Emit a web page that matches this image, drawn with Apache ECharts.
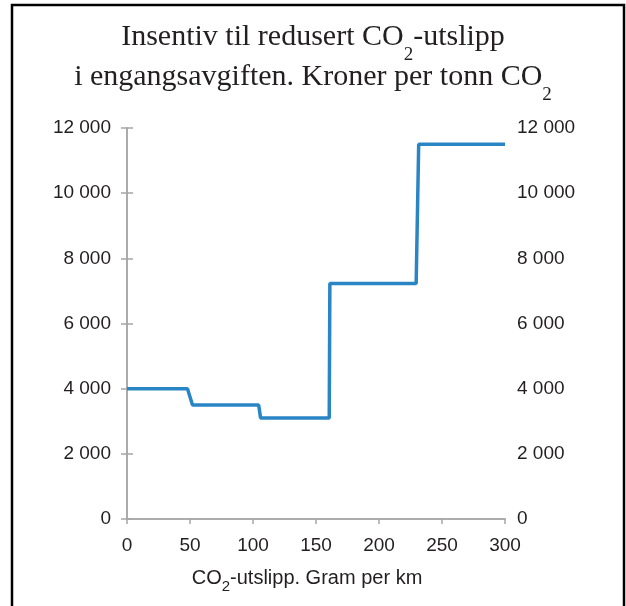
<!DOCTYPE html>
<html>
<head>
<meta charset="utf-8">
<script src="https://cdn.jsdelivr.net/npm/echarts@6/dist/echarts.min.js"></script>
<style>
html,body{margin:0;padding:0;background:#fff;}
#chart{width:626px;height:606px;}
</style>
</head>
<body>
<div id="chart"></div>
<script>
// Data
var emissions = [0, 48, 52, 104.5, 106, 160.5, 161, 229.5, 231.5, 300];
var incentive = [4000, 4000, 3500, 3500, 3100, 3100, 7230, 7230, 11500, 11500];
var xTicks = [0, 50, 100, 150, 200, 250, 300];
var yTicks = [0, 2000, 4000, 6000, 8000, 10000, 12000];

var seriesData = emissions.map(function (x, i) { return [x, incentive[i]]; });

function fmt(v) {
  return String(v).replace(/\B(?=(\d{3})+(?!\d))/g, ' ');
}

var axisColor = '#A6A6A6';
var labelStyle = { color: '#231F20', fontFamily: 'Liberation Sans', fontSize: 19 };

var chart = echarts.init(document.getElementById('chart'), null, { renderer: 'canvas' });
chart.setOption({
  animation: false,
  backgroundColor: '#ffffff',
  title: {
    left: 'center',
    top: 12,
    textStyle: {
      fontWeight: 'normal',
      rich: {
        a: { fontFamily: 'Liberation Serif', fontWeight: 'normal', fontSize: 30, color: '#231F20', lineHeight: 40 },
        s: { fontFamily: 'Liberation Serif', fontWeight: 'normal', fontSize: 19, color: '#231F20', lineHeight: 2, verticalAlign: 'top', padding: [29, 0, 0, 0] }
      }
    },
    text: '{a|Insentiv til redusert CO}{s|2}{a|-utslipp}\n{a|i engangsavgiften. Kroner per tonn CO}{s|2}'
  },
  graphic: [{
    type: 'rect',
    shape: { x: 12, y: 5, width: 612, height: 640 },
    style: { fill: 'none', stroke: '#000000', lineWidth: 2.5 },
    silent: true
  }],
  grid: { left: 127, right: 121, top: 128, bottom: 87, containLabel: false },
  xAxis: [{
    type: 'value',
    min: xTicks[0], max: xTicks[xTicks.length - 1], interval: 50,
    position: 'bottom',
    axisLine: { show: true, lineStyle: { color: axisColor, width: 1.5 } },
    axisTick: { show: true, inside: false, length: 5, lineStyle: { color: axisColor, width: 1.5 } },
    splitLine: { show: false },
    axisLabel: Object.assign({ margin: 17 }, labelStyle),
    name: '{a|CO}{s|2}{a|-utslipp. Gram per km}',
    nameLocation: 'middle',
    nameGap: 47,
    nameTextStyle: {
      padding: [0, 18, 0, 0],
      rich: {
        a: { fontFamily: 'Liberation Sans', fontSize: 20, color: '#231F20', lineHeight: 24 },
        s: { fontFamily: 'Liberation Sans', fontSize: 15, color: '#231F20', lineHeight: 2, verticalAlign: 'top', padding: [13, 0, 0, 0] }
      }
    }
  }, {
    type: 'value',
    min: xTicks[0], max: xTicks[xTicks.length - 1], interval: 50,
    position: 'top',
    axisLine: { show: true, lineStyle: { color: axisColor, width: 1.5 } },
    axisTick: { show: false },
    axisLabel: { show: false },
    splitLine: { show: false }
  }],
  yAxis: [{
    type: 'value',
    min: yTicks[0], max: yTicks[yTicks.length - 1], interval: 2000,
    position: 'left',
    axisLine: { show: true, lineStyle: { color: axisColor, width: 1.5 } },
    axisTick: { show: true, inside: false, length: 6, lineStyle: { color: axisColor, width: 1.5 } },
    splitLine: { show: false },
    axisLabel: Object.assign({ margin: 16, formatter: fmt }, labelStyle)
  }, {
    type: 'value',
    min: yTicks[0], max: yTicks[yTicks.length - 1], interval: 2000,
    position: 'right',
    axisLine: { show: true, lineStyle: { color: axisColor, width: 1.5 } },
    axisTick: { show: true, inside: false, length: 6, lineStyle: { color: axisColor, width: 1.5 } },
    splitLine: { show: false },
    axisLabel: Object.assign({ margin: 12, formatter: fmt }, labelStyle)
  }],
  series: [{
    type: 'line',
    xAxisIndex: 0,
    yAxisIndex: 0,
    data: seriesData,
    showSymbol: false,
    symbol: 'none',
    lineStyle: { color: '#2A85C5', width: 3.5 },
    z: 3
  }]
});
</script>
</body>
</html>
